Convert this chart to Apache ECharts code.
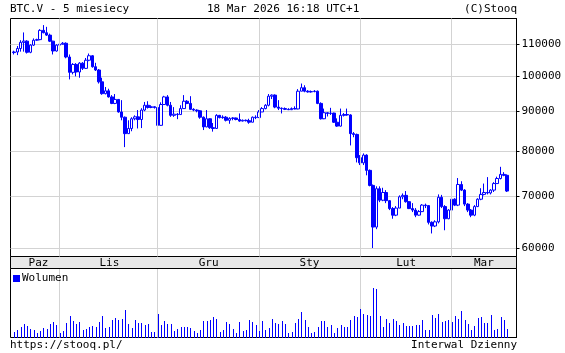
<!DOCTYPE html>
<html><head><meta charset="utf-8">
<script src="https://cdn.jsdelivr.net/npm/echarts@6/dist/echarts.min.js"></script>
<style>html,body{margin:0;padding:0;background:#fff}#c{width:565px;height:353px}</style>
</head><body><div id="c"></div>
<script>
// Daily BTC.V candles, 2025-10-18 .. 2026-03-18 (index 0 = 18 Oct 2025)
const openP = [107200,107400,108500,110500,110900,107300,109600,111200,111400,114500,
113700,112900,110900,107700,109600,109900,110200,105800,101100,103500,
101200,103900,102300,104800,106200,102800,101800,98300,94900,95700,
94000,92200,93300,89900,88500,84300,85600,88100,88600,87900,
90400,91700,91100,91300,91100,86400,91900,94000,91700,89000,
89300,89200,90800,92800,92200,90600,90400,90200,88500,86000,
88100,85800,85600,89000,88400,88500,87700,88200,88300,87900,
87500,87700,87600,87200,88500,88400,89900,90800,91700,94200,
94500,91200,90900,90800,90600,90500,90800,90700,95600,96600,
95600,95400,95500,95600,92200,88100,89700,89500,89600,87200,
86200,89000,89200,89100,84300,84100,78500,77300,79100,75600,
72300,63900,71600,69200,70800,69100,67500,66200,67600,69900,
70200,68900,67500,67200,66200,66900,68200,68100,64800,64100,
64900,69800,67900,65500,67200,69400,68200,72500,71300,68400,
67200,66200,67900,69400,70400,70800,70700,71300,72700,73800,
74700,74500];
const closeP = [107400,108500,110500,110900,107300,109600,111200,111400,114500,113700,
112900,110900,107700,109600,109900,110200,105800,101100,103500,101200,
103900,102300,104800,106200,102800,101800,98300,94900,95700,94000,
92200,93300,89900,88500,84300,85600,88100,88600,87900,90400,
91700,91100,91300,91100,86400,91900,94000,91700,89000,89300,
89200,90800,92800,92200,90600,90400,90200,88500,86000,88100,
85800,85600,89000,88400,88500,87700,88200,88300,87900,87500,
87700,87600,87200,88500,88400,89900,90800,91700,94200,94500,
91200,90900,90800,90600,90500,90800,90700,95600,96600,95600,
95400,95500,95600,92200,88100,89700,89500,89600,87200,86200,
89000,89200,89100,84300,84100,78500,77300,79100,75600,72300,
63900,71600,69200,70800,69100,67500,66200,67600,69900,70200,
68900,67500,67200,66200,66900,68200,68100,64800,64100,64900,
69800,67900,65500,67200,69400,68200,72500,71300,68400,67200,
66200,67900,69400,70400,70800,70700,71300,72700,73800,74700,
74500,71100];
const lowP = [106600,106400,107500,107500,106900,107000,109300,111000,111200,113500,
112600,110600,106600,107500,109400,109800,105400,99000,100500,99900,
99500,101800,102100,104500,102500,101500,97800,94600,94700,93800,
92000,92000,89700,87700,81000,84200,84900,87700,85600,85700,
90100,90800,90900,90800,83900,86300,91800,91400,88600,88600,
88000,89200,90800,92000,90400,90100,89800,88100,85200,85900,
85500,84800,85500,88200,88100,87400,86800,87700,87700,87300,
87400,87400,86800,87200,88000,88300,89900,90600,91400,93400,
90900,90400,89500,90400,90400,90400,90600,90600,95600,95300,
95200,95200,95300,92000,87900,88000,88700,89100,87000,86000,
86100,88700,88900,81400,83400,77400,76800,76800,74500,72100,
60050,63500,68800,69000,68600,67200,65500,66000,67600,69400,
68700,67400,66800,65800,66100,66800,67600,64400,62700,63900,
64600,67600,63300,65400,67000,68000,68000,71100,68000,66800,
65800,66000,67800,69200,70200,70400,70400,70900,72600,73600,
74300,70900];
const highP = [107800,109300,111200,113800,111200,109900,111800,111700,114900,116300,
115700,113400,111000,109900,111000,110600,110500,106600,103900,103900,
104200,104200,105500,106900,106400,104000,102100,99500,96800,96300,
94500,94800,93400,93100,88700,87700,88500,89000,90400,90900,
92600,92800,91700,91400,91300,92500,94300,94500,92600,91200,
89600,91700,94500,93100,94200,90900,90600,90400,88700,90400,
88200,87000,89300,89100,89000,88800,88500,88500,88400,89500,
87900,87900,88100,88700,89000,90400,91200,92000,94800,94700,
94700,93100,91100,91100,90900,91100,91400,96200,97800,97300,
95900,95800,95900,95800,92500,90800,89800,91000,89700,88200,
90800,89600,90800,89300,84700,84300,79100,79500,79300,75800,
72500,72100,72100,71800,71300,69200,67800,68000,70200,70600,
71100,69000,68600,67600,67200,68400,68500,68200,65000,65200,
70400,70300,68200,67400,69800,69600,73900,73200,71500,68600,
67400,68200,69600,71700,72700,74100,71500,73000,74200,76400,
75200,74700];
// Volume (relative units)
const volume = [17,23,32,42,35,25,22,15,20,30,
27,40,48,38,15,20,45,65,50,42,
47,22,27,32,34,33,48,65,30,33,
52,58,52,55,83,42,30,53,45,43,
37,40,17,17,71,38,50,42,41,20,
25,32,32,32,30,20,13,23,50,50,
54,62,57,18,23,46,41,27,15,47,
19,24,53,48,37,20,50,24,29,56,
45,42,49,40,15,17,44,57,77,53,
33,15,17,33,50,51,33,37,15,30,
39,31,33,53,66,62,86,72,68,66,
150,146,66,32,57,45,56,49,39,44,
34,34,36,38,39,53,23,23,69,60,
71,48,50,53,48,66,56,80,53,40,
22,36,60,62,45,44,69,23,27,62,
53,26];
// Month boundaries (day index of the 1st) and month labels
const monthTicks = [14, 44, 75, 106, 134];
const monthLabelPos = [7.5, 29.2, 59.6, 90.5, 120.1, 143.9];
const monthNames = ['Paz', 'Lis', 'Gru', 'Sty', 'Lut', 'Mar'];
const priceTicks = [60000, 70000, 80000, 90000, 100000, 110000];

const ohlc = openP.map((o, i) => [i, o, closeP[i], lowP[i], highP[i]]);
const vol = volume.map((v, i) => [i, v]);

const FONT = '"DejaVu Sans Mono", "Liberation Mono", monospace';
const txt = { fontFamily: FONT, fontSize: 11, color: '#000', fontWeight: 'normal' };
const XMIN = -1.072, XMAX = 153.9;
const GRIDC = '#d3d3d3';

const chart = echarts.init(document.getElementById('c'), null, { renderer: 'canvas' });
chart.setOption({
  animation: false,
  backgroundColor: '#fff',
  title: [
    { text: 'BTC.V - 5 miesiecy', left: 10, top: 4, padding: 0, textStyle: txt },
    { text: '18 Mar 2026 16:18 UTC+1', left: 207, top: 4, padding: 0, textStyle: txt },
    { text: '(C)Stooq', right: 48, top: 4, padding: 0, textStyle: txt },
    { text: 'https://stooq.pl/', left: 10, top: 340, padding: 0, textStyle: txt },
    { text: 'Interwal Dzienny', right: 48, top: 340, padding: 0, textStyle: txt }
  ],
  legend: {
    data: ['Wolumen'], left: 13, top: 273, padding: 0, itemWidth: 7, itemHeight: 7,
    itemGap: 2, icon: 'rect', textStyle: Object.assign({}, txt, { padding: [0, 0, 0, -3] })
  },
  graphic: [{
    type: 'rect', z: 1,
    shape: { x: 10.5, y: 256.5, width: 506, height: 12 },
    style: { fill: '#e8e8e8', stroke: '#000', lineWidth: 1 }
  }],
  grid: [
    { left: 10.5, right: 48.5, top: 18.5, bottom: 96.5, show: true, borderColor: '#000', borderWidth: 1, backgroundColor: 'transparent' },
    { left: 10.5, right: 48.5, top: 268.5, bottom: 15.5, show: true, borderColor: '#000', borderWidth: 1, backgroundColor: 'transparent' }
  ],
  xAxis: [
    {
      type: 'value', gridIndex: 0, min: XMIN, max: XMAX,
      axisLine: { show: false, onZero: false },
      axisTick: { show: false, customValues: monthTicks },
      splitLine: { show: true, lineStyle: { color: GRIDC, width: 1 } },
      axisLabel: {
        show: true, customValues: monthLabelPos, margin: 1,
        fontFamily: FONT, fontSize: 11, color: '#000',
        formatter: v => monthNames[monthLabelPos.indexOf(v)] || ''
      },
      z: 5
    },
    {
      type: 'value', gridIndex: 1, min: XMIN, max: XMAX,
      axisLine: { show: false, onZero: false },
      axisTick: { show: false, customValues: monthTicks },
      splitLine: { show: true, lineStyle: { color: GRIDC, width: 1 } },
      axisLabel: { show: false }
    }
  ],
  yAxis: [
    {
      type: 'log', logBase: 10, gridIndex: 0, min: 58560, max: 118600, position: 'right',
      axisLine: { show: true, onZero: false, lineStyle: { color: '#000' } },
      axisTick: { show: true, inside: false, length: 3, customValues: priceTicks, lineStyle: { color: '#000' } },
      axisLabel: { show: true, customValues: priceTicks, margin: 5, fontFamily: FONT, fontSize: 11, color: '#000', formatter: v => String(Math.round(v)) },
      splitLine: { show: true, lineStyle: { color: GRIDC, width: 1 } }
    },
    {
      type: 'value', gridIndex: 1, min: 0, max: 207, position: 'right',
      axisLine: { show: true, onZero: false, lineStyle: { color: '#000' } },
      axisTick: { show: false }, axisLabel: { show: false }, splitLine: { show: false }
    }
  ],
  series: [
    {
      type: 'candlestick', name: 'BTC.V', xAxisIndex: 0, yAxisIndex: 0,
      data: ohlc, barWidth: 3, z: 3,
      itemStyle: { color: '#ffffff', color0: '#0000ff', borderColor: '#0000ff', borderColor0: '#0000ff', borderWidth: 1 }
    },
    {
      type: 'custom', name: 'Wolumen', xAxisIndex: 1, yAxisIndex: 1,
      data: vol, encode: { x: 0, y: 1 }, z: 3,
      itemStyle: { color: '#0000ff' },
      renderItem: (params, api) => {
        const top = api.coord([api.value(0), api.value(1)]);
        const base = api.coord([api.value(0), 0]);
        const x = Math.round(top[0]);
        return {
          type: 'rect',
          shape: { x: x, y: Math.round(top[1]), width: 1, height: Math.round(base[1]) - Math.round(top[1]) },
          style: { fill: '#0000ff' }
        };
      }
    }
  ]
});
</script>
</body></html>
